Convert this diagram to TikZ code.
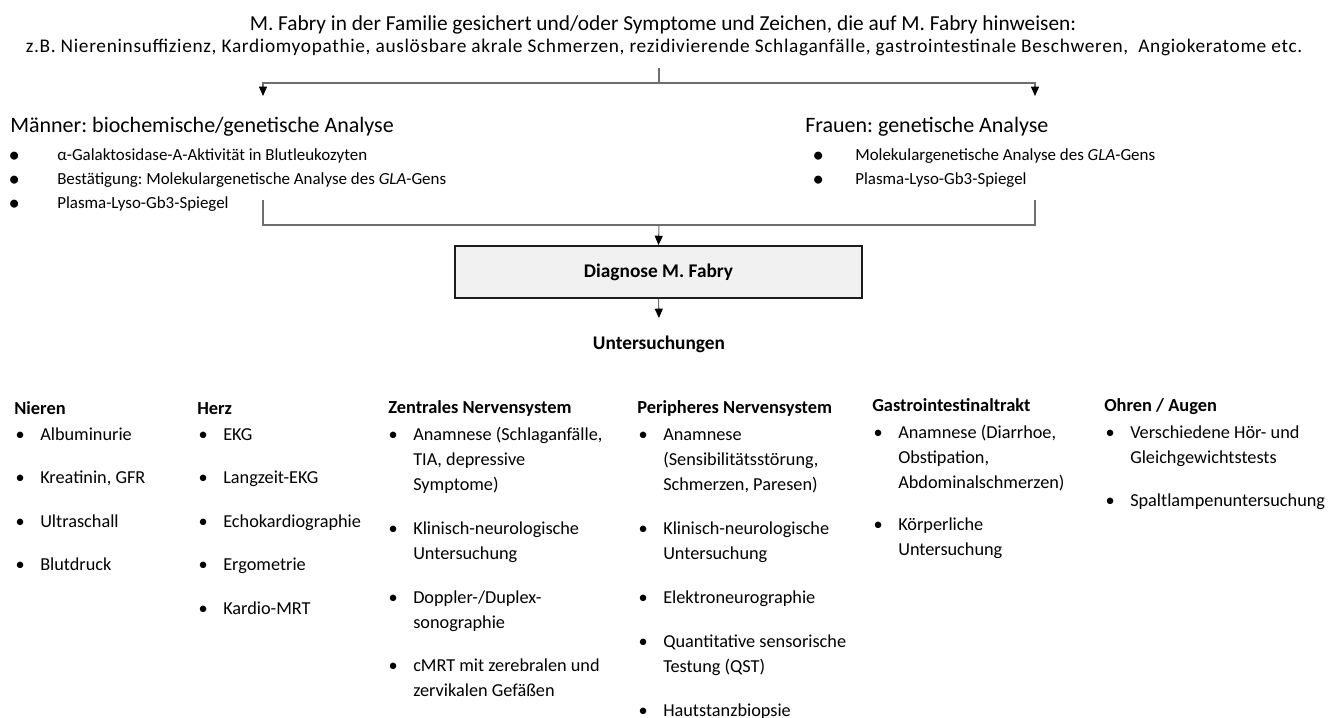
\documentclass[tikz,border=0pt]{standalone}
\usepackage{fontspec}
\setmainfont{Carlito}
\frenchspacing
\usetikzlibrary{arrows.meta,positioning}
\definecolor{wiregray}{RGB}{110,110,110}
\definecolor{boxfill}{RGB}{241,241,241}
\definecolor{boxline}{RGB}{28,28,28}
% bullet hanging left of the text, #1 = distance to the text
\newcommand\bul[1]{\llap{\makebox[0pt][c]{\textbullet}\hspace{#1}}}
\newcommand\bigbul[1]{\llap{\makebox[0pt][c]{\raisebox{-1.6pt}{\fontsize{17}{17}\selectfont\textbullet}}\hspace{#1}}}
\newcommand\eintrag[1]{\bul{15pt}\parbox[t]{6cm}{\raggedright #1}}
\tikzset{
  wire/.style={draw=wiregray,line width=0.8pt},
  pfeil/.style={wire,-{Triangle[length=7pt,width=6pt,color=black]}},
  title/.style={anchor=base,inner sep=0pt,font=\fontsize{16}{19}\selectfont},
  sub/.style={anchor=base,inner sep=0pt,font=\fontsize{14.5}{17}\selectfont\addfontfeature{LetterSpace=3.5}},
  group/.style={anchor=base west,inner sep=0pt,font=\fontsize{16.5}{19}\selectfont},
  test/.style={anchor=base west,inner sep=0pt,font=\fontsize{12.7}{18}\selectfont},
  diagbox/.style={draw=boxline,fill=boxfill,line width=1.4pt,minimum width=305pt,
    minimum height=39pt,font=\bfseries\fontsize{14.5}{17}\selectfont},
  head/.style={anchor=base west,inner sep=0pt,font=\bfseries\fontsize{13.8}{18.75}\selectfont},
  entry/.style={anchor=base west,inner sep=0pt,font=\fontsize{13.7}{18.75}\selectfont},
}
\begin{document}
\begin{tikzpicture}[x=0.75pt,y=-0.75pt]
  \useasboundingbox (0,0) rectangle (1329,718);
  % indication
  \node[title] (symp) at (663,30) {M. Fabry in der Familie gesichert und/oder Symptome und Zeichen, die auf M. Fabry hinweisen:};
  \node[sub] (bsp) at (664,52) {z.B. Niereninsuffizienz, Kardiomyopathie, auslösbare akrale Schmerzen, rezidivierende Schlaganfälle, gastrointestinale Beschweren,\ \ Angiokeratome etc.};
  \coordinate (s0) at (659,68);
  \coordinate (s1) at (659,83);
  \coordinate (mArr) at (263,96);
  \coordinate (fArr) at (1035,96);
  \draw[wire] (s0) -- (s1);
  \draw[pfeil] (s1) -| (mArr);
  \draw[pfeil] (s1) -| (fArr);
  % analysis men / women
  \node[group] (maenner) at (10,132) {Männer: biochemische/genetische Analyse};
  \node[test] (m1) at (57,160.5) {\bigbul{32.25pt}α-Galaktosidase-A-Aktivität in Blutleukozyten};
  \node[test] (m2) at (57,184.5) {\bigbul{32.25pt}Bestätigung: Molekulargenetische Analyse des \textit{GLA}-Gens};
  \node[test] (m3) at (57,208.5) {\bigbul{32.25pt}Plasma-Lyso-Gb3-Spiegel};
  \node[group] (frauen) at (805,132) {Frauen: genetische Analyse};
  \node[test] (f1) at (855,160.5) {\bigbul{27.75pt}Molekulargenetische Analyse des \textit{GLA}-Gens};
  \node[test] (f2) at (855,184.5) {\bigbul{27.75pt}Plasma-Lyso-Gb3-Spiegel};
  \coordinate (mEnd) at (263,200);
  \coordinate (fEnd) at (1035,200);
  \coordinate (join) at (659,225);
  \draw[wire] (mEnd) |- (join) -| (fEnd);
  % diagnosis
  \node[diagbox] (diag) at (658.5,272) {Diagnose M. Fabry};
  \draw[pfeil] (join) -- (diag.north);
  \coordinate (uArr) at (659,318);
  \draw[pfeil] (diag.south) -- (uArr);
  \node[anchor=base,inner sep=0pt,font=\bfseries\fontsize{14.5}{17}\selectfont] (unters) at (659,349) {Untersuchungen};
  % examinations per organ
  \node[head] (nieren) at (14,414) {Nieren};
  \foreach \t [count=\i] in {Albuminurie,{Kreatinin, GFR},Ultraschall,Blutdruck}
    \node[entry] (nie\i) at (40,{440+43.5*(\i-1)}) {\eintrag{\t}};
  \node[head] (herz) at (197,414) {Herz};
  \foreach \t [count=\i] in {EKG,Langzeit-EKG,Echokardiographie,Ergometrie,Kardio-MRT}
    \node[entry] (herz\i) at (223,{440+43.5*(\i-1)}) {\eintrag{\t}};
  \node[head] (zns) at (388,413) {Zentrales Nervensystem};
  \node[entry] (zns1) at (413,440) {\eintrag{Anamnese (Schlaganfälle,\\TIA, depressive\\Symptome)}};
  \node[entry] (zns2) at (413,534) {\eintrag{Klinisch-neurologische\\Untersuchung}};
  \node[entry] (zns3) at (413,603) {\eintrag{Doppler-/Duplex-\\sonographie}};
  \node[entry] (zns4) at (413,671) {\eintrag{cMRT mit zerebralen und\\zervikalen Gefäßen}};
  \node[head] (pns) at (637,413) {Peripheres Nervensystem};
  \node[entry] (pns1) at (663,440) {\eintrag{Anamnese\\(Sensibilitätsstörung,\\Schmerzen, Paresen)}};
  \node[entry] (pns2) at (663,534) {\eintrag{Klinisch-neurologische\\Untersuchung}};
  \node[entry] (pns3) at (663,603) {\eintrag{Elektroneurographie}};
  \node[entry] (pns4) at (663,647) {\eintrag{Quantitative sensorische\\Testung (QST)}};
  \node[entry] (pns5) at (663,716) {\eintrag{Hautstanzbiopsie}};
  \node[head] (gi) at (872,411) {Gastrointestinaltrakt};
  \node[entry] (gi1) at (898,438) {\eintrag{Anamnese (Diarrhoe,\\Obstipation,\\Abdominalschmerzen)}};
  \node[entry] (gi2) at (898,530) {\eintrag{Körperliche\\Untersuchung}};
  \node[head] (ohr) at (1104,411) {Ohren / Augen};
  \node[entry] (ohr1) at (1130,438) {\eintrag{Verschiedene Hör- und\\Gleichgewichtstests}};
  \node[entry] (ohr2) at (1130,506) {\eintrag{Spaltlampenuntersuchung}};
\end{tikzpicture}
\end{document}
